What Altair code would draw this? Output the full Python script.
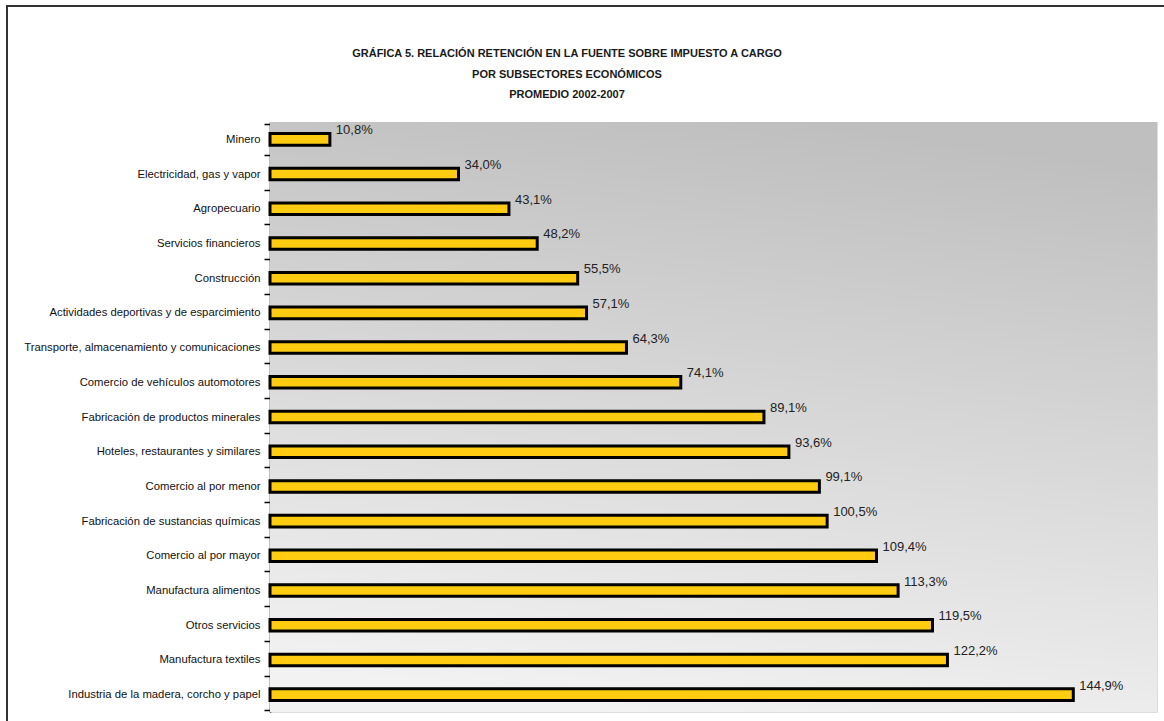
import altair as alt
import pandas as pd

categories = [
    "Minero",
    "Electricidad, gas y vapor",
    "Agropecuario",
    "Servicios financieros",
    "Construcción",
    "Actividades deportivas y de esparcimiento",
    "Transporte, almacenamiento y comunicaciones",
    "Comercio de vehículos automotores ",
    "Fabricación de productos minerales",
    "Hoteles, restaurantes y similares",
    "Comercio al por menor",
    "Fabricación de sustancias químicas",
    "Comercio al por mayor",
    "Manufactura alimentos",
    "Otros servicios",
    "Manufactura textiles",
    "Industria de la madera, corcho y papel",
]
values = [10.8, 34.0, 43.1, 48.2, 55.5, 57.1, 64.3, 74.1, 89.1, 93.6,
          99.1, 100.5, 109.4, 113.3, 119.5, 122.2, 144.9]
labels = [f"{v:.1f}".replace(".", ",") + "%" for v in values]

title_lines = [
    "GRÁFICA 5. RELACIÓN RETENCIÓN EN LA FUENTE SOBRE IMPUESTO A CARGO",
    "POR SUBSECTORES ECONÓMICOS",
    "PROMEDIO 2002-2007",
]

df = pd.DataFrame({"cat": categories, "val": values, "lab": labels})
one = pd.DataFrame({"a": [0]})

W, H = 887, 590
FONT = "Liberation Sans, Arial, sans-serif"

ysc = alt.Y("cat:N", sort=categories, title=None,
            axis=alt.Axis(domainColor="#000000", domainWidth=1.5,
                          tickColor="#000000", tickWidth=1.5, tickSize=6,
                          tickBand="extent", labelPadding=4,
                          labelFont=FONT, labelFontSize=11.3, labelColor="#111111",
                          labelLimit=400))
xsc = alt.X("val:Q", scale=alt.Scale(domain=[0, 160], nice=False), axis=None)

frame = alt.Chart(one).mark_rect(fill=None, stroke="#333333", strokeWidth=2).encode(
    x=alt.value(-263), x2=alt.value(W + 30), y=alt.value(-116), y2=alt.value(H + 30)
)

title = alt.Chart(one).mark_text(
    text=title_lines, align="center", baseline="middle", lineHeight=20.5,
    font=FONT, fontSize=11, fontWeight="bold", color="#1a1a1a"
).encode(x=alt.value(297), y=alt.value(-68))

bg = alt.Chart(one).mark_rect(
    color=alt.Gradient(
        gradient="linear",
        stops=[alt.GradientStop(color="#bfbfbf", offset=0),
               alt.GradientStop(color="#f2f2f2", offset=1)],
        x1=0.6, y1=0, x2=0.4, y2=1,
    )
).encode(x=alt.value(0), x2=alt.value(W), y=alt.value(0), y2=alt.value(H))

bars = alt.Chart(df).mark_bar(
    color="#FFCC11", stroke="#000000", strokeWidth=3,
    height=alt.RelativeBandSize(0.37)
).encode(x=xsc, y=ysc)

text = alt.Chart(df).mark_text(
    align="left", baseline="alphabetic", dx=6, dy=-5,
    font=FONT, fontSize=13, color="#222222"
).encode(x="val:Q", y=alt.Y("cat:N", sort=categories), text="lab:N")

chart = alt.layer(frame, title, bg, bars, text).properties(
    width=W, height=H,
    autosize=alt.AutoSizeParams(type="none"),
    padding={"left": 270, "top": 122, "right": 7, "bottom": 9},
).configure_view(stroke="#a0a0a0", strokeWidth=1.5).configure(background="white")

chart.save("out.html", embed_options={"renderer": "svg", "actions": False})
